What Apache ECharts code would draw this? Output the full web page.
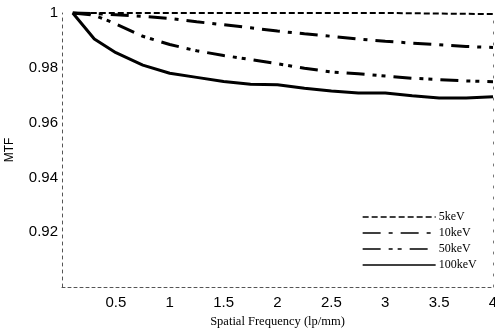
<!DOCTYPE html>
<html>
<head>
<meta charset="utf-8">
<script src="https://cdn.jsdelivr.net/npm/echarts@6/dist/echarts.min.js"></script>
<style>html,body{margin:0;padding:0;background:#fff}#c{width:495px;height:328px}</style>
</head>
<body>
<div id="c"></div>
<script>
const freq = [0.1,0.3,0.5,0.75,1.0,1.25,1.5,1.75,2.0,2.25,2.5,2.75,3.0,3.25,3.5,3.75,4.0];
const mtf5 = [1,1,1,1,1,1,1,1,1,1,1,1,1,0.9999,0.9998,0.9997,0.9996];
const mtf10 = [1.0,0.9998,0.9994,0.9988,0.998,0.9968,0.9957,0.9946,0.9934,0.9924,0.9915,0.9905,0.9897,0.989,0.9884,0.9878,0.9874];
const mtf50 = [1.0,0.9992,0.996,0.9915,0.9885,0.9862,0.9845,0.983,0.9815,0.9798,0.9785,0.9778,0.977,0.9762,0.9757,0.9752,0.9749];
const mtf100 = [1.0,0.9905,0.9855,0.981,0.978,0.9765,0.975,0.974,0.9738,0.9725,0.9715,0.9708,0.9708,0.9698,0.969,0.969,0.9694];
const seriesNames = ['5keV','10keV','50keV','100keV'];
const xTicks = {min:0, max:4, interval:0.5};
const yTicks = {min:0.9, max:1, interval:0.02};

const pairs = (ys) => freq.map((f,i)=>[f, ys[i]]);
const chart = echarts.init(document.getElementById('c'));
const mk = (name, ys, type, width) => ({
  name, type:'line', data: pairs(ys), showSymbol:false, symbol:'none', clip:false,
  itemStyle:{color:'#000', opacity:0},
  lineStyle:{color:'#000', width, type}
});
chart.setOption({
  animation:false,
  grid:{left:62, right:2, top:13, bottom:41, outerBoundsMode:'none', containLabel:false},
  legend:{
    orient:'vertical', left:357, top:206, itemWidth:73, itemHeight:12, itemGap:4,
    data: seriesNames,
    textStyle:{fontFamily:'Liberation Serif', fontSize:12, color:'#000', padding:[0,0,0,-2]},
    itemStyle:{opacity:0},
    lineStyle:{width:1.3, opacity:1}
  },
  xAxis:{
    type:'value', min:xTicks.min, max:xTicks.max, interval:xTicks.interval,
    name:'Spatial Frequency (lp/mm)', nameLocation:'middle', nameGap:24,
    nameTextStyle:{fontFamily:'Liberation Serif', fontSize:12.5, color:'#000'},
    axisLine:{lineStyle:{color:'#555', type:[3,3], width:1}},
    axisTick:{show:false}, splitLine:{show:false},
    axisLabel:{fontFamily:'Liberation Sans', fontSize:15, color:'#000', margin:8,
      formatter: v => v === 0 ? '' : String(v)}
  },
  yAxis:[{
    type:'value', min:yTicks.min, max:yTicks.max, interval:yTicks.interval,
    name:'MTF', nameLocation:'middle', nameGap:46, nameRotate:90,
    nameTextStyle:{fontFamily:'Liberation Sans', fontSize:12, color:'#000'},
    axisLine:{show:true, lineStyle:{color:'#555', type:[3,4], width:1}},
    axisTick:{show:false}, splitLine:{show:false},
    axisLabel:{fontFamily:'Liberation Sans', fontSize:15, color:'#000', margin:4,
      formatter: v => v < 0.905 ? '' : String(+v.toFixed(2))}
  },{
    type:'value', position:'right', min:yTicks.min, max:yTicks.max, interval:yTicks.interval,
    axisLine:{show:true, lineStyle:{color:'#777', type:[2,9], width:1}},
    axisTick:{show:false}, axisLabel:{show:false}, splitLine:{show:false}
  }],
  series:[
    mk(seriesNames[0], mtf5, [6,3], 2),
    mk(seriesNames[1], mtf10, [18,8,4,8], 3),
    mk(seriesNames[2], mtf50, [18,8,4,5,4,8], 3),
    mk(seriesNames[3], mtf100, 'solid', 3)
  ]
});
</script>
</body>
</html>
